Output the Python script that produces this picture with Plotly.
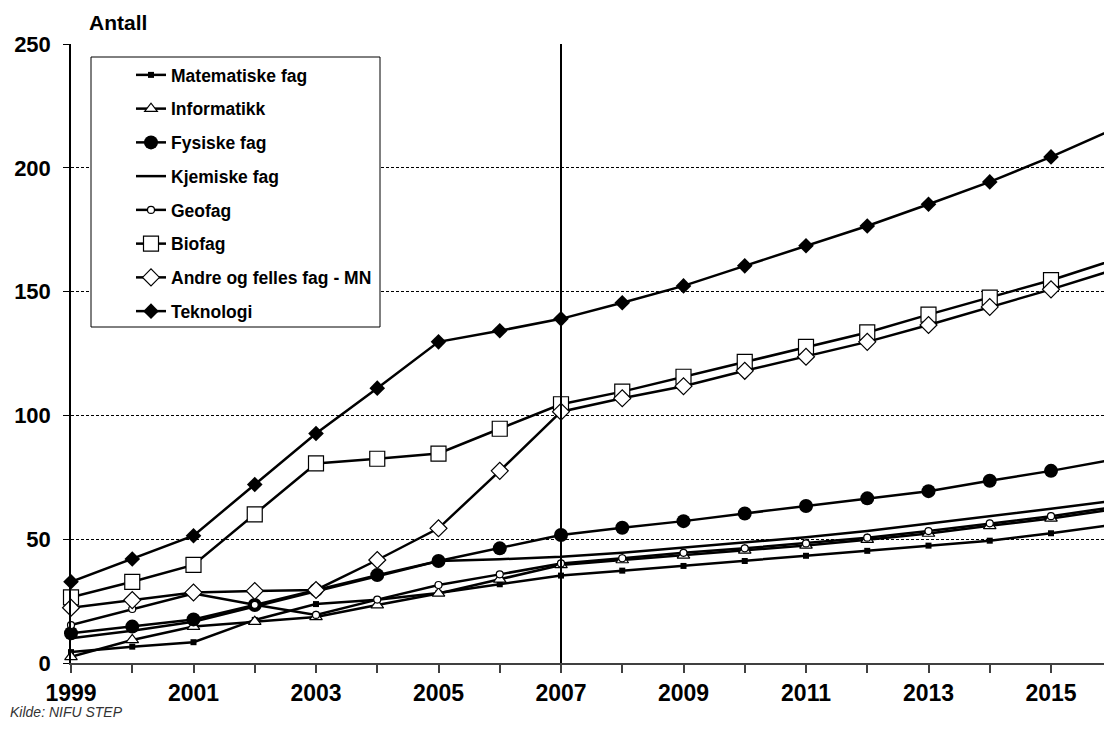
import plotly.graph_objects as go

# Antall per år, 1999-2016
years = list(range(1999, 2017))

matematiske = [4.4, 6.6, 8.4, 17.4, 23.8, 25.5, 28.3, 31.8, 35.3, 37.3, 39.2, 41.2, 43.3, 45.3, 47.4, 49.4, 52.4, 55.8]
informatikk = [2.5, 9.3, 14.7, 16.7, 18.6, 23.4, 28.1, 33.8, 39.6, 41.6, 43.5, 45.5, 47.5, 49.8, 52.3, 55.4, 58.4, 62.0]
fysiske = [12.0, 14.7, 17.6, 23.4, 29.5, 35.5, 41.2, 46.3, 51.7, 54.6, 57.3, 60.4, 63.4, 66.5, 69.4, 73.6, 77.6, 82.1]
kjemiske = [10.0, 13.0, 16.7, 23.0, 29.0, 35.0, 41.2, 41.9, 42.9, 44.5, 46.5, 48.5, 50.8, 53.3, 56.2, 59.2, 62.3, 65.5]
geofag = [15.3, 21.8, 28.1, 23.5, 19.4, 25.6, 31.5, 35.8, 40.2, 42.3, 44.5, 46.3, 48.3, 50.6, 53.3, 56.4, 59.3, 62.9]
biofag = [26.5, 32.8, 39.6, 60.0, 80.6, 82.5, 84.6, 94.6, 104.5, 109.6, 115.6, 121.6, 127.7, 133.5, 140.7, 147.6, 154.6, 162.6]
andre = [22.3, 25.4, 28.5, 29.1, 29.5, 41.6, 54.4, 77.6, 101.5, 106.9, 111.8, 118.0, 123.7, 129.7, 136.5, 143.8, 150.9, 158.6]
teknologi = [32.8, 42.0, 51.4, 72.1, 92.7, 111.0, 129.7, 134.2, 139.0, 145.5, 152.3, 160.4, 168.5, 176.5, 185.3, 194.3, 204.4, 215.4]

x_ticks = list(range(1999, 2016))
x_labels = [str(y) if (y - 1999) % 2 == 0 else "" for y in x_ticks]
y_ticks = [0, 50, 100, 150, 200, 250]

FONT = "Liberation Sans, Arial, sans-serif"
BLACK = "#000000"

series = [
    ("Matematiske fag", matematiske, dict(symbol="square", size=6, color=BLACK)),
    ("Informatikk", informatikk, dict(symbol="triangle-up", size=11, color="white", line=dict(color=BLACK, width=1.2))),
    ("Fysiske fag", fysiske, dict(symbol="circle", size=14, color=BLACK)),
    ("Kjemiske fag", kjemiske, None),
    ("Geofag", geofag, dict(symbol="circle", size=7, color="white", line=dict(color=BLACK, width=1.2))),
    ("Biofag", biofag, dict(symbol="square", size=15, color="white", line=dict(color=BLACK, width=1.2))),
    ("Andre og felles fag - MN", andre, dict(symbol="diamond", size=13, color="white", line=dict(color=BLACK, width=1.2))),
    ("Teknologi", teknologi, dict(symbol="diamond", size=12, color=BLACK)),
]

fig = go.Figure()
for i, (name, values, marker) in enumerate(series):
    fig.add_trace(go.Scatter(
        x=years, y=values, name=name,
        mode="lines+markers" if marker else "lines",
        line=dict(color=BLACK, width=2.5),
        marker=marker,
        legendgroup=f"g{i}",
        cliponaxis=False,
    ))

W, H = 1104, 742
L, R, T, B = 71, 0, 44, 79
pw, ph = W - L - R, H - T - B


def px_x(p):
    return (p - L) / pw


def px_y(p):
    return (H - B - p) / ph


fig.update_layout(
    width=W, height=H,
    margin=dict(l=L, r=R, t=T, b=B),
    paper_bgcolor="white", plot_bgcolor="white",
    font=dict(family=FONT, color=BLACK),
    showlegend=True,
    legend=dict(
        x=px_x(131), y=px_y(57), xanchor="left", yanchor="top",
        bgcolor="rgba(0,0,0,0)", borderwidth=0,
        font=dict(family=FONT, size=17.5, color=BLACK, weight="bold"),
        traceorder="grouped", tracegroupgap=8,
        itemwidth=30,
    ),
    xaxis=dict(
        range=[1999, 1999 + (W - L) / 61.25],
        tickmode="array", tickvals=x_ticks, ticktext=x_labels,
        ticks="outside", ticklen=8, tickcolor="#404040", tickwidth=1.5,
        showline=True, linecolor="#404040", linewidth=2,
        showgrid=False, zeroline=False,
        tickfont=dict(family=FONT, size=23, color=BLACK, weight="bold"),
        ticklabelstandoff=0,
    ),
    yaxis=dict(
        range=[0, 250],
        tickmode="array", tickvals=y_ticks,
        ticks="outside", ticklen=6, tickcolor=BLACK, tickwidth=1,
        showline=True, linecolor=BLACK, linewidth=1.5,
        showgrid=True, gridcolor=BLACK, gridwidth=1, griddash="3px,2px",
        zeroline=False,
        tickfont=dict(family=FONT, size=22, color=BLACK, weight="bold"),
        ticklabelstandoff=8,
    ),
    shapes=[
        # legend frame
        dict(type="rect", xref="paper", yref="paper",
             x0=px_x(91), x1=px_x(380), y0=px_y(327), y1=px_y(57),
             fillcolor="white", line=dict(color=BLACK, width=1), layer="above"),
        # 2007 marker line
        dict(type="line", xref="x", yref="y", x0=2007, x1=2007, y0=0, y1=250,
             line=dict(color=BLACK, width=2), layer="above"),
    ],
    annotations=[
        dict(text="<b>Antall</b>", xref="paper", yref="paper",
             x=px_x(87), y=px_y(23), xanchor="left", yanchor="middle",
             showarrow=False, font=dict(family=FONT, size=21, color=BLACK)),
        dict(text="<i>Kilde: NIFU STEP</i>", xref="paper", yref="paper",
             x=px_x(8), y=px_y(712), xanchor="left", yanchor="middle",
             showarrow=False, font=dict(family=FONT, size=14, color="#333333")),
    ],
)

fig.write_html("out.html")
